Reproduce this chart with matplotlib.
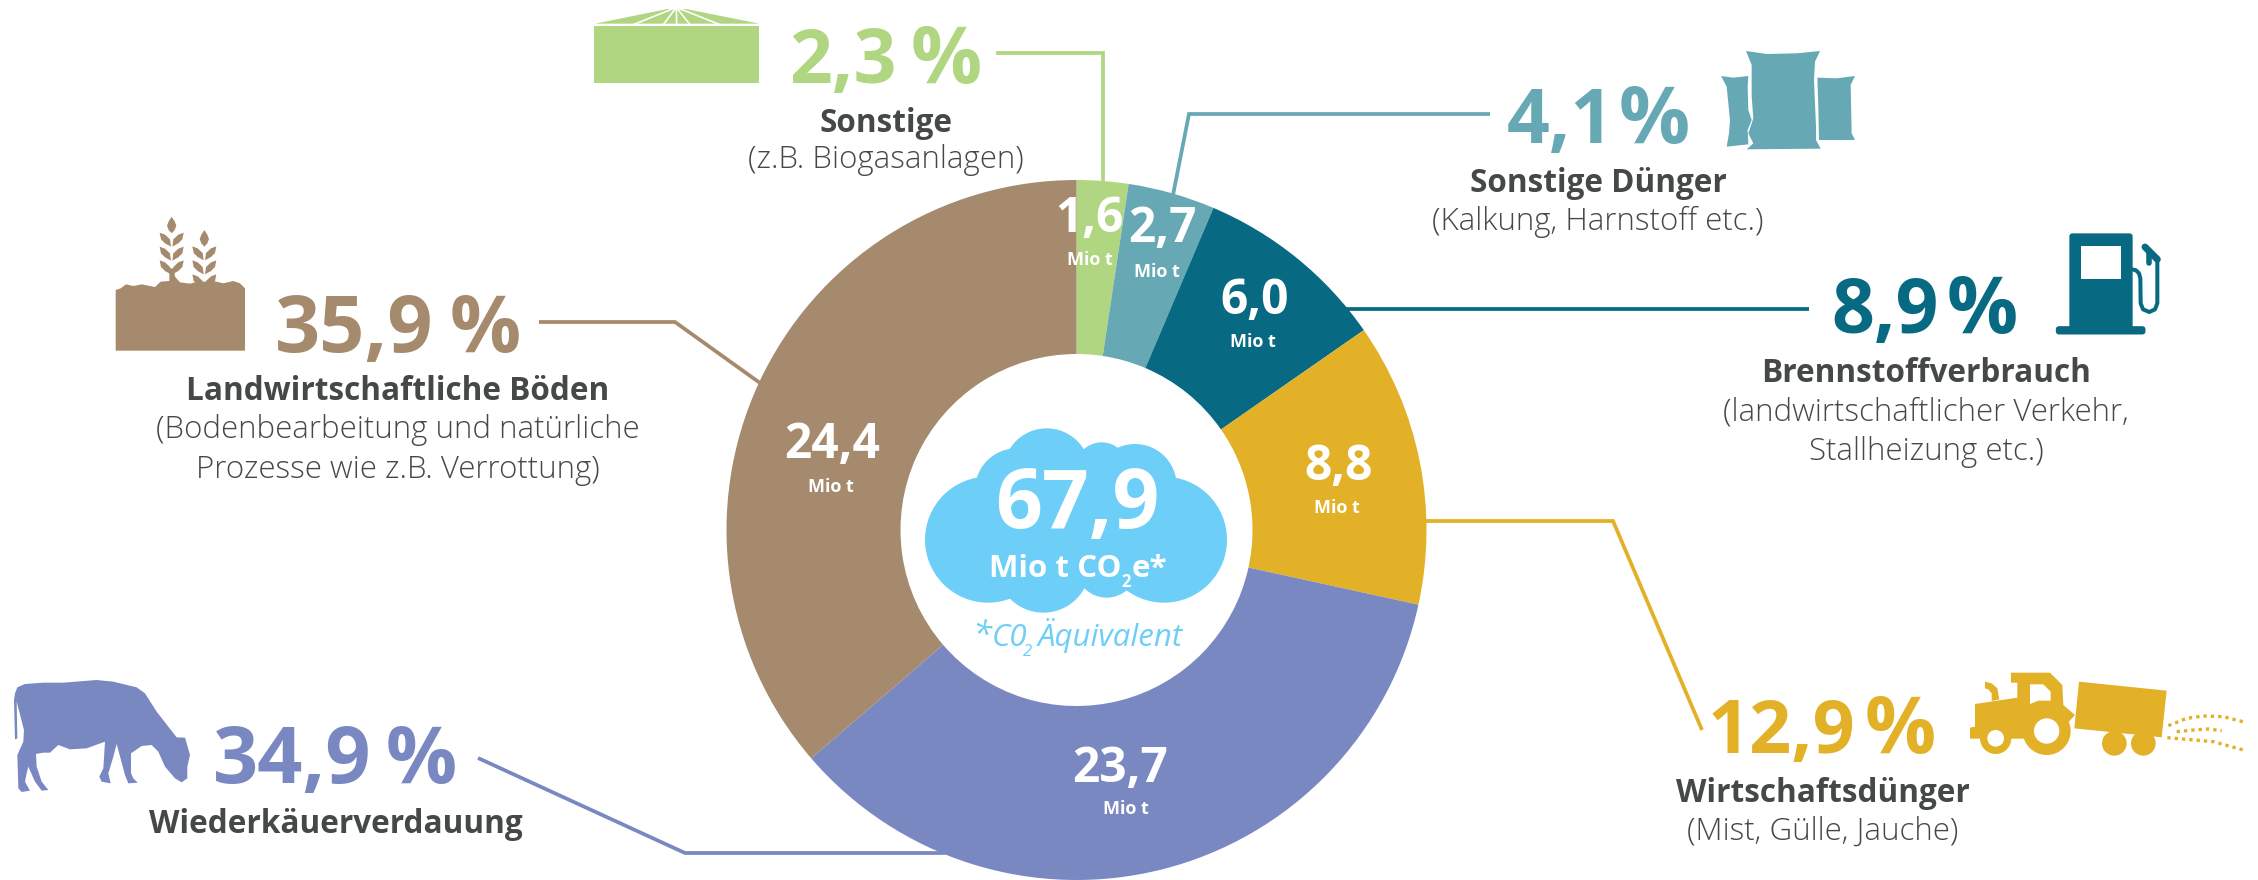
#CO2 emissions from agriculture - donut with icons and callouts
#All layout below is in reference pixels (2258 x 880), y pointing down

import matplotlib
matplotlib.use("Agg")
import matplotlib.pyplot as plt
from matplotlib.patches import Circle, Polygon, Rectangle, FancyBboxPatch

#---Data---
MioT = [1.6, 2.7, 6.0, 8.8, 23.7, 24.4]
Percent = [2.3, 4.1, 8.9, 12.9, 34.9, 35.9]
Names = ["Sonstige", "Sonstige Dünger", "Brennstoffverbrauch", "Wirtschaftsdünger",
         "Wiederkäuerverdauung", "Landwirtschaftliche Böden"]
Notes = [["(z.B. Biogasanlagen)"], ["(Kalkung, Harnstoff etc.)"],
         ["(landwirtschaftlicher Verkehr,", "Stallheizung etc.)"], ["(Mist, Gülle, Jauche)"],
         [], ["(Bodenbearbeitung und natürliche", "Prozesse wie z.B. Verrottung)"]]
Total = 67.9

#---Styles---
Colours = ["#B0D681", "#66A9B5", "#076A82", "#E2B127", "#7A88C2", "#A68A6D"]
CloudColour = "#6DCEF7"
Dark = "#454849"
Font = "Open Sans"
TitleSize = 22.7
NoteSize = 22.5

#---Layout---
W, H = 2258, 880
Cx, Cy, ROut, RIn = 1076.5, 530, 350, 176
#number left, percent right, baseline, number size (no kerning here, so the tight ones shrink a bit)
PctPos = [(789, 982, 83, 54), (1507, 1690, 143, 54), (1831, 2018, 333, 54),
          (1708, 1936, 753, 53), (213, 457, 783, 57), (275, 521, 352, 57)]
#centre x, title baseline, note baselines
NamePos = [(886, 132, [168]), (1598, 192, [230]), (1926, 382, [421, 460]),
           (1823, 802, [840]), (336, 833, []), (398, 400, [438, 478])]
#value centre, value baseline, unit centre, unit baseline
RingPos = [(1089, 232, 1090, 265), (1162, 242, 1157, 277), (1255, 314, 1253, 347),
           (1339, 480, 1337, 513), (1120, 782, 1126, 814), (832, 458, 831, 492)]
Leaders = [[(996, 53), (1103, 53), (1103, 182)],
           [(1490, 114), (1189, 114), (1173, 195)],
           [(1809, 309), (1346, 309)],
           [(1425, 521), (1613, 521), (1702, 730)],
           [(478, 758), (685, 853), (945, 853)],
           [(539, 322), (675, 322), (760, 383)]]


def Comma(Value):
    return f"{Value:.1f}".replace(".", ",")


def Z(Points, X0, Y0):
    """Zoomed crop coordinates (3x) to reference pixels"""
    return [(X0 + x / 3, Y0 + y / 3) for x, y in Points]


def Poly(Points, X0, Y0, Colour, Z_=3):
    Ax.add_patch(Polygon(Z(Points, X0, Y0), closed=True, fc=Colour, ec="none", zorder=Z_))


def Disc(x, y, r, X0, Y0, Colour, Z_=3):
    Ax.add_patch(Circle((X0 + x / 3, Y0 + y / 3), r / 3, fc=Colour, ec="none", zorder=Z_))


def Label(x, y, S, Size, Colour, Weight="bold", Ha="center", Style="normal"):
    Ax.text(x, y, S, fontsize=Size, color=Colour, fontweight=Weight, ha=Ha, va="baseline",
            fontfamily=Font, fontstyle=Style, zorder=6)


Fig = plt.figure(figsize=(W / 100, H / 100), dpi=100, facecolor="white")

#Pie axes spans +-1.25 radii, placed so that the ring lands on its pixel position
Side = 2.5 * ROut
PieAx = Fig.add_axes([(Cx - Side / 2) / W, 1 - (Cy + Side / 2) / H, Side / W, Side / H], zorder=1)
PieAx.pie(MioT, colors=Colours, startangle=90, counterclock=False, radius=1,
          wedgeprops={"width": (ROut - RIn) / ROut, "linewidth": 0})

Ax = Fig.add_axes([0, 0, 1, 1], zorder=2)
Ax.set_xlim(0, W)
Ax.set_ylim(H, 0)
Ax.axis("off")
Ax.patch.set_alpha(0)

#Leader lines
for Pts, Colour in zip(Leaders, Colours):
    Ax.plot([p[0] for p in Pts], [p[1] for p in Pts], color=Colour, lw=2.7,
            solid_joinstyle="miter", solid_capstyle="butt", zorder=2)

#Callout texts
for i, Colour in enumerate(Colours):
    NumL, PctR, Base, NumSize = PctPos[i]
    Label(NumL, Base, Comma(Percent[i]), NumSize, Colour, Ha="left")
    Label(PctR, Base, "%", 57, Colour, Ha="right")
    Xc, TitleBase, NoteBases = NamePos[i]
    Label(Xc, TitleBase, Names[i], TitleSize, Dark)
    for Note, B in zip(Notes[i], NoteBases):
        Label(Xc, B, Note, NoteSize, Dark, Weight="light")
    VX, VB, UX, UB = RingPos[i]
    Label(VX, VB, Comma(MioT[i]), 34.5, "white")
    Label(UX, UB, "Mio t", 13, "white")

#---Cloud---
X0, Y0 = 890, 400
for x, y, r in [(294, 419, 189), (822, 419, 189), (470, 215, 130), (380, 270, 125),
                (735, 257, 125), (635, 207, 80), (460, 498, 140), (650, 500, 93)]:
    Disc(x, y, r, X0, Y0, CloudColour)
Poly([(300, 230), (820, 230), (820, 560), (300, 560)], X0, Y0, CloudColour)

Label(1077.5, 528, Comma(Total), 59, "white")
Label(989, 577, "Mio t CO", 22.5, "white", Ha="left")
Label(1126, 587, "2", 12, "white")
Label(1132, 577, "e*", 22.5, "white", Ha="left")
Label(972, 646, "*", 25, CloudColour, Weight="normal", Ha="left", Style="italic")
Label(992, 646, "C0", 22.5, CloudColour, Weight="normal", Ha="left", Style="italic")
Label(1023, 656, "2", 12, CloudColour, Weight="normal", Ha="left", Style="italic")
Label(1038, 646, "Äquivalent", 22.5, CloudColour, Weight="normal", Ha="left", Style="italic")

#---Silo---
X0, Y0 = 580, 0
C = Colours[0]
Poly([(42, 78), (538, 78), (538, 248), (42, 248)], X0, Y0, C)
Poly([(45, 71), (262, 27), (318, 27), (538, 71)], X0, Y0, C)
for Xe in [160, 250, 290, 330, 420]:
    Pts = Z([(289, 22), (Xe, 74)], X0, Y0)
    Ax.plot([Pts[0][0], Pts[1][0]], [Pts[0][1], Pts[1][1]], color="white", lw=1.2, zorder=4)

#---Bags---
X0, Y0 = 1710, 40
C = Colours[1]
Poly([(33, 108), (70, 113), (115, 108), (113, 140), (115, 210), (125, 240), (113, 270), (115, 313),
      (50, 320), (57, 280), (60, 240), (50, 140)], X0, Y0, C)
Poly([(108, 33), (170, 42), (260, 40), (330, 33), (315, 65), (312, 120), (318, 260), (318, 300),
      (332, 326), (110, 328), (130, 310), (115, 280), (130, 235), (125, 170), (125, 75)], X0, Y0, C)
Poly([(322, 113), (380, 115), (435, 108), (422, 135), (425, 280), (435, 300), (327, 300),
      (325, 200)], X0, Y0, C)

#---Pump---
X0, Y0 = 2040, 220
C = Colours[2]
Ax.add_patch(FancyBboxPatch((X0 + 92 / 3, Y0 + 44 / 3), 182 / 3, 280 / 3, boxstyle="round,pad=1.3,rounding_size=3",
                            fc=C, ec="none", zorder=3))
Ax.add_patch(FancyBboxPatch((X0 + 55 / 3, Y0 + 326 / 3), 254 / 3, 10 / 3, boxstyle="round,pad=2.5,rounding_size=3.5",
                            fc=C, ec="none", zorder=3))
Ax.add_patch(Rectangle((X0 + 123 / 3, Y0 + 78 / 3), 119 / 3, 98 / 3, fc="white", ec="none", zorder=4))
Hose = Z([(276, 148), (288, 151), (297, 160), (301, 175), (302, 250), (309, 268), (328, 276),
          (345, 268), (352, 250), (352, 122)], X0, Y0)
Ax.plot([p[0] for p in Hose], [p[1] for p in Hose], color=C, lw=2.9, solid_joinstyle="round", zorder=3)
Nozzle = Z([(315, 81), (352, 118)], X0, Y0)
Ax.plot([p[0] for p in Nozzle], [p[1] for p in Nozzle], color=C, lw=5, solid_capstyle="round", zorder=3)
Spout = Z([(328, 100), (328, 128)], X0, Y0)
Ax.plot([p[0] for p in Spout], [p[1] for p in Spout], color=C, lw=4, solid_capstyle="round", zorder=3)

#---Tractor---
X0, Y0 = 1960, 660
C = Colours[3]
Poly([(153, 38), (270, 38), (307, 75), (310, 135), (345, 165), (322, 190), (260, 200), (200, 236),
      (30, 236), (30, 203), (45, 200), (45, 132), (172, 113), (172, 68), (153, 68)], X0, Y0, C)
Poly([(210, 73), (250, 73), (272, 95), (272, 122), (235, 122), (210, 132)], X0, Y0, "white", 4)
Poly([(75, 65), (95, 70), (112, 85), (118, 118), (95, 123), (95, 100), (85, 88), (75, 85)], X0, Y0, C)
Poly([(357, 65), (620, 92), (605, 232), (343, 205)], X0, Y0, C)
Disc(107, 235, 47, X0, Y0, C, 4)
Disc(107, 235, 25, X0, Y0, "white", 5)
Disc(260, 213, 72, X0, Y0, C, 4)
Disc(260, 213, 38, X0, Y0, "white", 5)
Disc(463, 250, 37, X0, Y0, C)
Disc(550, 250, 37, X0, Y0, C)
for Spray in [[(625, 197), (680, 175), (730, 168), (790, 170), (860, 188)],
              [(650, 215), (700, 210), (745, 207), (785, 212)],
              [(622, 233), (680, 238), (760, 245), (850, 270)]]:
    Pts = Z(Spray, X0, Y0)
    Ax.plot([p[0] for p in Pts], [p[1] for p in Pts], color=C, lw=2.4, linestyle=(0, (1, 1.2)),
            dash_capstyle="butt", zorder=3)

#---Cow---
X0, Y0 = 0, 660
Poly([(45, 100), (52, 82), (75, 72), (130, 68), (190, 68), (290, 60), (340, 65), (410, 82), (435, 100),
      (470, 155), (530, 232), (555, 233), (570, 285), (562, 320), (562, 355), (545, 367), (525, 355),
      (495, 320), (475, 275), (455, 255), (425, 258), (393, 280), (393, 340), (400, 355), (413, 368),
      (385, 370), (375, 345), (350, 252), (340, 290), (325, 340), (332, 370), (305, 365), (298, 350),
      (310, 325), (315, 245), (260, 265), (210, 268), (175, 255), (150, 278), (130, 278), (108, 282),
      (110, 320), (125, 365), (145, 390), (125, 392), (105, 365), (85, 320), (80, 340), (75, 365),
      (90, 392), (65, 396), (55, 385), (52, 285), (70, 245), (72, 210), (50, 125), (52, 235), (45, 238),
      (42, 120)], X0, Y0, Colours[4])

#---Soil and wheat---
X0, Y0 = 100, 205
C = Colours[5]
Poly([(47, 437), (47, 255), (62, 250), (78, 238), (100, 243), (125, 238), (165, 246), (182, 230),
      (208, 228), (208, 190), (222, 190), (225, 215), (240, 232), (270, 236), (285, 232), (340, 228),
      (370, 235), (400, 228), (420, 235), (435, 250), (435, 437)], X0, Y0, C)


def Wheat(Xc, TipY, RowYs):
    Poly([(Xc, TipY), (Xc + 9, TipY + 14), (Xc + 14, TipY + 27), (Xc + 9, TipY + 40), (Xc, TipY + 50),
          (Xc - 9, TipY + 40), (Xc - 14, TipY + 27), (Xc - 9, TipY + 14)], X0, Y0, C)
    for Ry in RowYs:
        for S in [-1, 1]:
            Poly([(Xc + S * 36, Ry), (Xc + S * 20, Ry + 6), (Xc + S * 5, Ry + 20), (Xc + S * 2, Ry + 42),
                  (Xc + S * 20, Ry + 32), (Xc + S * 32, Ry + 20)], X0, Y0, C)


Wheat(215, 35, [83, 125, 166])
Wheat(313, 75, [124, 166, 208])

Fig.savefig("out.png", dpi=100, facecolor="white")
